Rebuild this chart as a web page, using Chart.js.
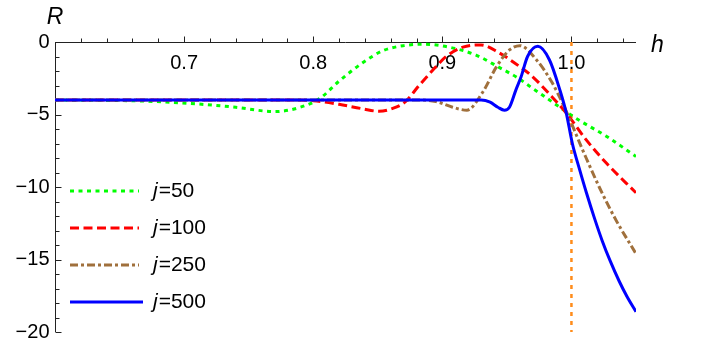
<!DOCTYPE html>
<html>
<head>
<meta charset="utf-8">
<title>R vs h</title>
<script src="https://cdn.jsdelivr.net/npm/chart.js@4.4.0/dist/chart.umd.min.js"></script>
<style>
    html, body { margin: 0; padding: 0; background: #fff; }
    #wrap { width: 705px; height: 343px; }
</style>
</head>
<body>
<div id="wrap"><canvas id="chart" width="705" height="343"></canvas></div>
<script>
// ========================================
// DATA
// ========================================

const hJ50 = [0.6, 0.67, 0.71, 0.74, 0.77, 0.79, 0.805, 0.82, 0.838, 0.854, 0.87, 0.885, 0.905, 0.926, 0.945, 0.957, 0.97, 0.983, 0.995, 1.006, 1.027, 1.05];
const rJ50 = [-4.0, -4.08, -4.27, -4.5, -4.8, -4.5, -3.9, -2.7, -1.45, -0.6, -0.25, -0.15, -0.35, -0.9, -1.8, -2.4, -3.2, -4.0, -4.75, -5.4, -6.5, -7.9];

const hJ100 = [0.6, 0.78, 0.8, 0.82, 0.838, 0.851, 0.861, 0.871, 0.882, 0.892, 0.903, 0.916, 0.93, 0.944, 0.96, 0.97, 0.983, 0.996, 1.011, 1.027, 1.05];
const rJ100 = [-4.0, -4.0, -4.05, -4.3, -4.6, -4.78, -4.6, -4.15, -3.0, -2.0, -1.0, -0.35, -0.2, -0.75, -1.7, -2.4, -3.6, -4.9, -6.7, -8.35, -10.4];

const hJ250 = [0.6, 0.88, 0.895, 0.908, 0.919, 0.931, 0.942, 0.952, 0.96, 0.973, 0.985, 0.993, 1.0, 1.007, 1.0114, 1.0215, 1.0346, 1.05];
const rJ250 = [-4.0, -4.0, -4.1, -4.5, -4.7, -3.5, -1.7, -0.55, -0.25, -1.24, -2.8, -4.2, -5.6, -7.1, -8.0, -10.0, -12.3, -14.6];

const hJ500 = [0.6, 0.93, 0.937, 0.943, 0.948, 0.952, 0.957, 0.961, 0.966, 0.974, 0.983, 0.991, 0.996, 1.0007, 1.006, 1.0116, 1.018, 1.0238, 1.03, 1.037, 1.043, 1.05];
const rJ500 = [-4.0, -4.0, -4.15, -4.5, -4.7, -4.5, -3.3, -2.4, -1.0, -0.3, -1.24, -3.3, -4.9, -7.0, -8.7, -10.4, -12.2, -13.7, -15.1, -16.5, -17.55, -18.6];

// vertical marker at h = 1
const hMarker = [1.0, 1.0];
const rMarker = [0, -20];

const seriesLabels = ['50', '100', '250', '500'];

const xTickValues = [0.7, 0.8, 0.9, 1.0];
const xTickLabels = ['0.7', '0.8', '0.9', '1.0'];
const yTickValues = [0, -5, -10, -15, -20];
const yTickLabels = ['0', '\u22125', '\u221210', '\u221215', '\u221220'];

// ========================================
// STYLES
// ========================================

const seriesStyles = [
    { color: '#00ff00', dash: [4, 4.5] },
    { color: '#ff0000', dash: [9, 4.5] },
    { color: '#a0703c', dash: [8, 3, 3, 3] },
    { color: '#0000ff', dash: [] }
];

const FONT = '"Liberation Sans", Arial, sans-serif';

function toPoints(hs, rs) {
    return hs.map((h, i) => ({ x: h, y: rs[i] }));
}

// ========================================
// AXES + LEGEND PLUGIN (Mathematica-like)
// ========================================

const mathAxes = {
    id: 'mathAxes',
    beforeDatasetsDraw(chart) {
        const ctx = chart.ctx;
        const area = chart.chartArea;
        const xs = chart.scales.x;
        const ys = chart.scales.y;
        const ax = Math.round(xs.getPixelForValue(0.6)) + 0.5;
        const ay = Math.round(ys.getPixelForValue(0)) + 0.5;

        ctx.save();
        ctx.strokeStyle = '#222';
        ctx.lineWidth = 1;
        ctx.beginPath();
        ctx.moveTo(area.left, ay);
        ctx.lineTo(area.right, ay);
        ctx.moveTo(ax, area.top);
        ctx.lineTo(ax, area.bottom);

        // x ticks (pointing up), minor every 0.02
        for (let k = 31; k <= 52; k++) {
            const v = k / 50;
            const px = Math.round(xs.getPixelForValue(v)) + 0.5;
            const major = k % 5 === 0;
            ctx.moveTo(px, ay);
            ctx.lineTo(px, ay - (major ? 6 : 4));
        }
        // y ticks (pointing right), minor every 1
        for (let v = -1; v >= -20; v--) {
            const py = Math.round(ys.getPixelForValue(v)) + 0.5;
            const major = v % 5 === 0;
            ctx.moveTo(ax, py);
            ctx.lineTo(ax + (major ? 6 : 4), py);
        }
        ctx.stroke();

        ctx.fillStyle = '#000';
        ctx.font = '20px ' + FONT;
        ctx.textAlign = 'center';
        ctx.textBaseline = 'middle';
        xTickValues.forEach((v, i) => {
            ctx.fillText(xTickLabels[i], xs.getPixelForValue(v), ay + 21);
        });
        ctx.textAlign = 'right';
        yTickValues.forEach((v, i) => {
            ctx.fillText(yTickLabels[i], ax - 6, ys.getPixelForValue(v));
        });

        // axis labels
        ctx.font = 'italic 23px ' + FONT;
        ctx.textAlign = 'center';
        ctx.textBaseline = 'alphabetic';
        ctx.fillText('R', 55, 24);
        ctx.textAlign = 'left';
        ctx.fillText('h', 651, 52);
        ctx.restore();
    },
    afterDatasetsDraw(chart) {
        const ctx = chart.ctx;
        const rows = [191, 228, 265, 302];
        ctx.save();
        seriesLabels.forEach((lab, i) => {
            const st = seriesStyles[i];
            ctx.strokeStyle = st.color;
            ctx.lineWidth = 3;
            ctx.setLineDash(st.dash);
            ctx.beginPath();
            ctx.moveTo(70, rows[i]);
            ctx.lineTo(i === 3 ? 143 : 139, rows[i]);
            ctx.stroke();

            ctx.setLineDash([]);
            ctx.fillStyle = '#000';
            ctx.textBaseline = 'middle';
            ctx.textAlign = 'left';
            ctx.font = 'italic 21px ' + FONT;
            ctx.fillText('j', 153, rows[i]);
            const jw = ctx.measureText('j').width;
            ctx.font = '21px ' + FONT;
            ctx.fillText('=' + lab, 153 + jw + 1, rows[i]);
        });
        ctx.restore();
    }
};

// ========================================
// CHART
// ========================================

const curveData = [
    toPoints(hJ50, rJ50),
    toPoints(hJ100, rJ100),
    toPoints(hJ250, rJ250),
    toPoints(hJ500, rJ500)
];

const datasets = curveData.map((pts, i) => ({
    label: 'j=' + seriesLabels[i],
    data: pts,
    showLine: true,
    borderColor: seriesStyles[i].color,
    borderDash: seriesStyles[i].dash,
    borderWidth: 3,
    pointRadius: 0,
    cubicInterpolationMode: 'monotone',
    fill: false,
    order: 4 - i
}));

datasets.push({
    label: 'h=1',
    data: toPoints(hMarker, rMarker),
    showLine: true,
    borderColor: '#ff8c1a',
    borderDash: [4, 5],
    borderWidth: 2.5,
    pointRadius: 0,
    fill: false,
    order: 5
});

new Chart(document.getElementById('chart'), {
    type: 'scatter',
    data: { datasets: datasets },
    options: {
        responsive: false,
        animation: false,
        devicePixelRatio: 1,
        layout: { padding: { left: 55, right: 69, top: 42, bottom: 11 } },
        plugins: {
            legend: { display: false },
            tooltip: { enabled: false }
        },
        scales: {
            x: { type: 'linear', min: 0.6, max: 1.05, display: false },
            y: { type: 'linear', min: -20, max: 0, display: false }
        }
    },
    plugins: [mathAxes]
});
</script>
</body>
</html>
